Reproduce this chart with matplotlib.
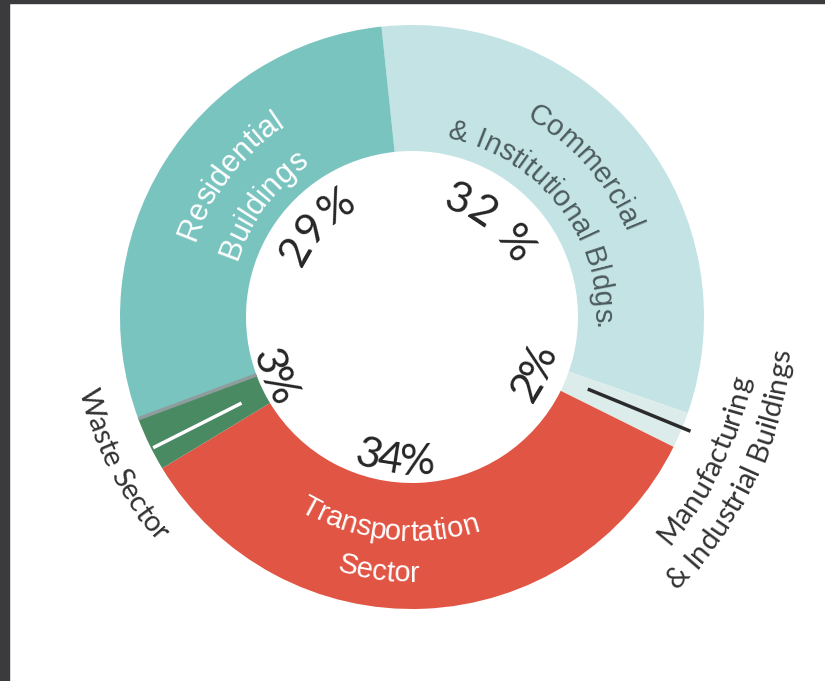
import numpy as np
import matplotlib
matplotlib.use("Agg")
import matplotlib.pyplot as plt
from matplotlib.font_manager import FontProperties, findfont, get_font
from matplotlib.patches import Rectangle

# data
sectors = ["Commercial & Institutional Bldgs.", "Manufacturing & Industrial Buildings",
           "Transportation Sector", "Waste Sector", "Residential Buildings"]
shares = [32, 2, 34, 3, 29]
pct_labels = ["32 %", "2%", "34%", "3%", "29%"]
colors = ["#c3e3e4", "#dcecea", "#e15544", "#4a8a63", "#7ac4c0"]

W, H = 825, 681
fig = plt.figure(figsize=(W / 100, H / 100), dpi=100)
ax = fig.add_axes([0, 0, 1, 1])
CX, CY = 412, H - 317
R_OUT, R_IN = 292, 166

wedges, _ = ax.pie(shares, colors=colors, startangle=96, counterclock=False,
                   radius=R_OUT, center=(CX, CY),
                   wedgeprops=dict(width=R_OUT - R_IN, linewidth=0))
ax.set_xlim(0, W)
ax.set_ylim(0, H)
ax.set_aspect("equal")
ax.axis("off")

def mid_angle(w):
    m = (w.theta1 + w.theta2) / 2
    return (m + 180) % 360 - 180

mids = [mid_angle(w) for w in wedges]

def radial(th, r0, r1, **kw):
    t = np.radians(th)
    ax.plot([CX + r0 * np.cos(t), CX + r1 * np.cos(t)],
            [CY + r0 * np.sin(t), CY + r1 * np.sin(t)], solid_capstyle="butt", **kw)

# separator between waste and residential, leader lines
radial(wedges[3].theta1, R_IN, R_OUT, color="#8e9c9c", lw=2.5)
radial(mids[3] + 1, 191, 290, color="white", lw=2.5)
radial(mids[1] + 0.5, 190, 301, color="#2b2b2b", lw=2.5)

def arc_text(s, r_base, mid, size, color, family, weight="normal", outward=True):
    fp = FontProperties(family=family, weight=weight, size=size)
    font = get_font(findfont(fp))
    font.set_size(size, fig.dpi)
    adv = np.array([font.load_char(ord(ch)).linearHoriAdvance / 65536 for ch in s])
    offs = np.cumsum(adv) - adv / 2 - adv.sum() / 2
    dth = np.degrees(offs / r_base)
    for ch, d in zip(s, dth):
        if ch == " ":
            continue
        th = mid - d if outward else mid + d
        rot = th - 90 if outward else th + 90
        t = np.radians(th)
        ax.text(CX + r_base * np.cos(t), CY + r_base * np.sin(t), ch,
                rotation=rot, rotation_mode="anchor", ha="center", va="baseline",
                fontproperties=fp, color=color)

seg_font = "Liberation Sans"
geo_font = "Lato"

# labels inside the ring
arc_text("Residential", 230, mids[4] - 6, 22, "white", seg_font)
arc_text("Buildings", 184, mids[4] - 5, 22, "white", seg_font)
arc_text("Commercial", 229, mids[0] + 2.6, 21, "#4d5b5e", seg_font)
arc_text("& Institutional Bldgs.", 182, mids[0] - 1.1, 21, "#4d5b5e", seg_font)
arc_text("Transportation", 224, mids[2] - 8.7, 21, "white", seg_font, outward=False)
arc_text("Sector", 265, mids[2] - 9.9, 21, "white", seg_font, outward=False)

# outer labels
arc_text("Waste Sector", 341, mids[3] + 1.2, 21, "#333333", geo_font, outward=False)
arc_text("Manufacturing", 344, mids[1] - 3.2, 21, "#333333", geo_font, outward=False)
arc_text("& Industrial Buildings", 380, mids[1] - 2.7, 21, "#333333", geo_font, outward=False)

# percentages
pct_pos = [(113, 12.6, True), (148, -1.7, False), (157, -9.4, False),
           (163, -2.8, False), (121, -12, True)]
for lab, m, (rb, off, out) in zip(pct_labels, mids, pct_pos):
    arc_text(lab, rb, m + off, 31, "#262626", geo_font, outward=out)

# dark frame strips
fig.patches.append(Rectangle((0, 0), 9 / W, 1, transform=fig.transFigure,
                             color="#3b3b3d", zorder=10))
fig.patches.append(Rectangle((0, 1 - 3 / H), 1, 3 / H, transform=fig.transFigure,
                             color="#3b3b3d", zorder=10))

fig.savefig("out.png", dpi=100)
